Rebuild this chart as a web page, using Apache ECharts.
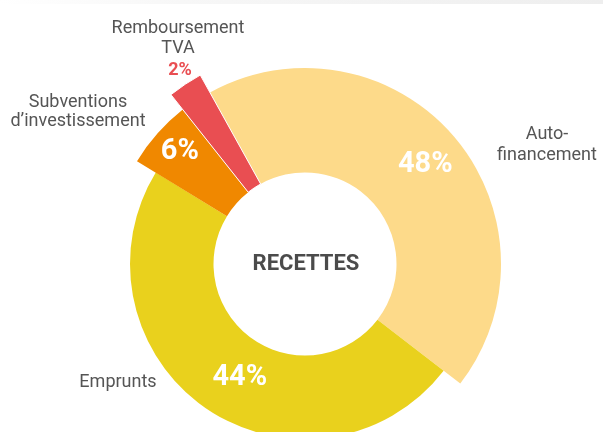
<!DOCTYPE html>
<html>
<head>
<meta charset="utf-8">
<script src="https://cdn.jsdelivr.net/npm/echarts@6/dist/echarts.min.js"></script>
<style>html,body{margin:0;padding:0;background:#fff;}#c{width:603px;height:432px;}</style>
</head>
<body>
<div id="c"></div>
<script>
// ---- data ----
const categories = ['Auto-\nfinancement', 'Emprunts', 'Subventions\nd’investissement', 'Remboursement\nTVA'];
// angular shares as drawn in the picture
const values = [43.5, 48.3, 5.6, 2.6];
// percentages as printed on the picture
const shareLabels = ['48%', '44%', '6%', '2%'];
const centerTitle = 'RECETTES';

// ---- styling / layout ----
const colors = ['#FDDA8A', '#E9D11D', '#F08800', '#E94E52'];
const outerRadius = [196, 175, 197, 216];
const innerRadius = 91.5;
const center = [305, 264];
const labelOffsets = [[9, -4], [12, 2], [-15, -15], [-38, -63]];
const labelSizes = [29, 29, 29, 18];
const labelColors = ['#fff', '#fff', '#fff', '#E94E52'];
const namePos = [[547, 145, 20.5], [118, 382, 20], [78, 112, 18.5], [178, 38, 20]];
const FONT = 'Roboto, "Noto Sans", sans-serif';

const chart = echarts.init(document.getElementById('c'), null, {renderer: 'canvas'});

const series = categories.map(function (cat, i) {
  return {
    type: 'pie',
    center: center,
    radius: [innerRadius, outerRadius[i]],
    startAngle: 119,
    clockwise: true,
    silent: true,
    animation: false,
    avoidLabelOverlap: false,
    labelLine: {show: false},
    emphasis: {disabled: true},
    data: values.map(function (v, j) {
      const own = j === i;
      return {
        name: categories[j],
        value: v,
        itemStyle: own ? {
          color: colors[j],
          borderColor: j === 3 ? '#fff' : colors[j],
          borderWidth: j === 3 ? 1 : 0
        } : {color: 'transparent', borderWidth: 0},
        label: own ? {
          show: true,
          position: 'inside',
          formatter: function () { return shareLabels[j]; },
          offset: labelOffsets[j],
          color: labelColors[j],
          fontFamily: FONT,
          fontWeight: 'bold',
          fontSize: labelSizes[j]
        } : {show: false}
      };
    })
  };
});

const graphic = [{
  type: 'rect',
  shape: {x: 0, y: 0, width: 603, height: 4},
  style: {
    fill: new echarts.graphic.LinearGradient(0, 0, 1, 0, [
      {offset: 0, color: '#ffffff'},
      {offset: 0.3, color: '#f7f7f7'},
      {offset: 1, color: '#eeeeee'}
    ])
  },
  silent: true
}, {
  type: 'text',
  x: 306, y: 264,
  style: {
    text: centerTitle,
    fill: '#4b4b4b',
    font: 'bold 22px ' + FONT,
    textAlign: 'center',
    textVerticalAlign: 'middle'
  }
}];
categories.forEach(function (cat, i) {
  graphic.push({
    type: 'text',
    x: namePos[i][0], y: namePos[i][1],
    style: {
      text: cat,
      fill: '#555555',
      font: '18px ' + FONT,
      lineHeight: namePos[i][2],
      textAlign: 'center',
      textVerticalAlign: 'middle'
    }
  });
});

chart.setOption({
  animation: false,
  backgroundColor: '#ffffff',
  series: series,
  graphic: graphic
});
</script>
</body>
</html>
